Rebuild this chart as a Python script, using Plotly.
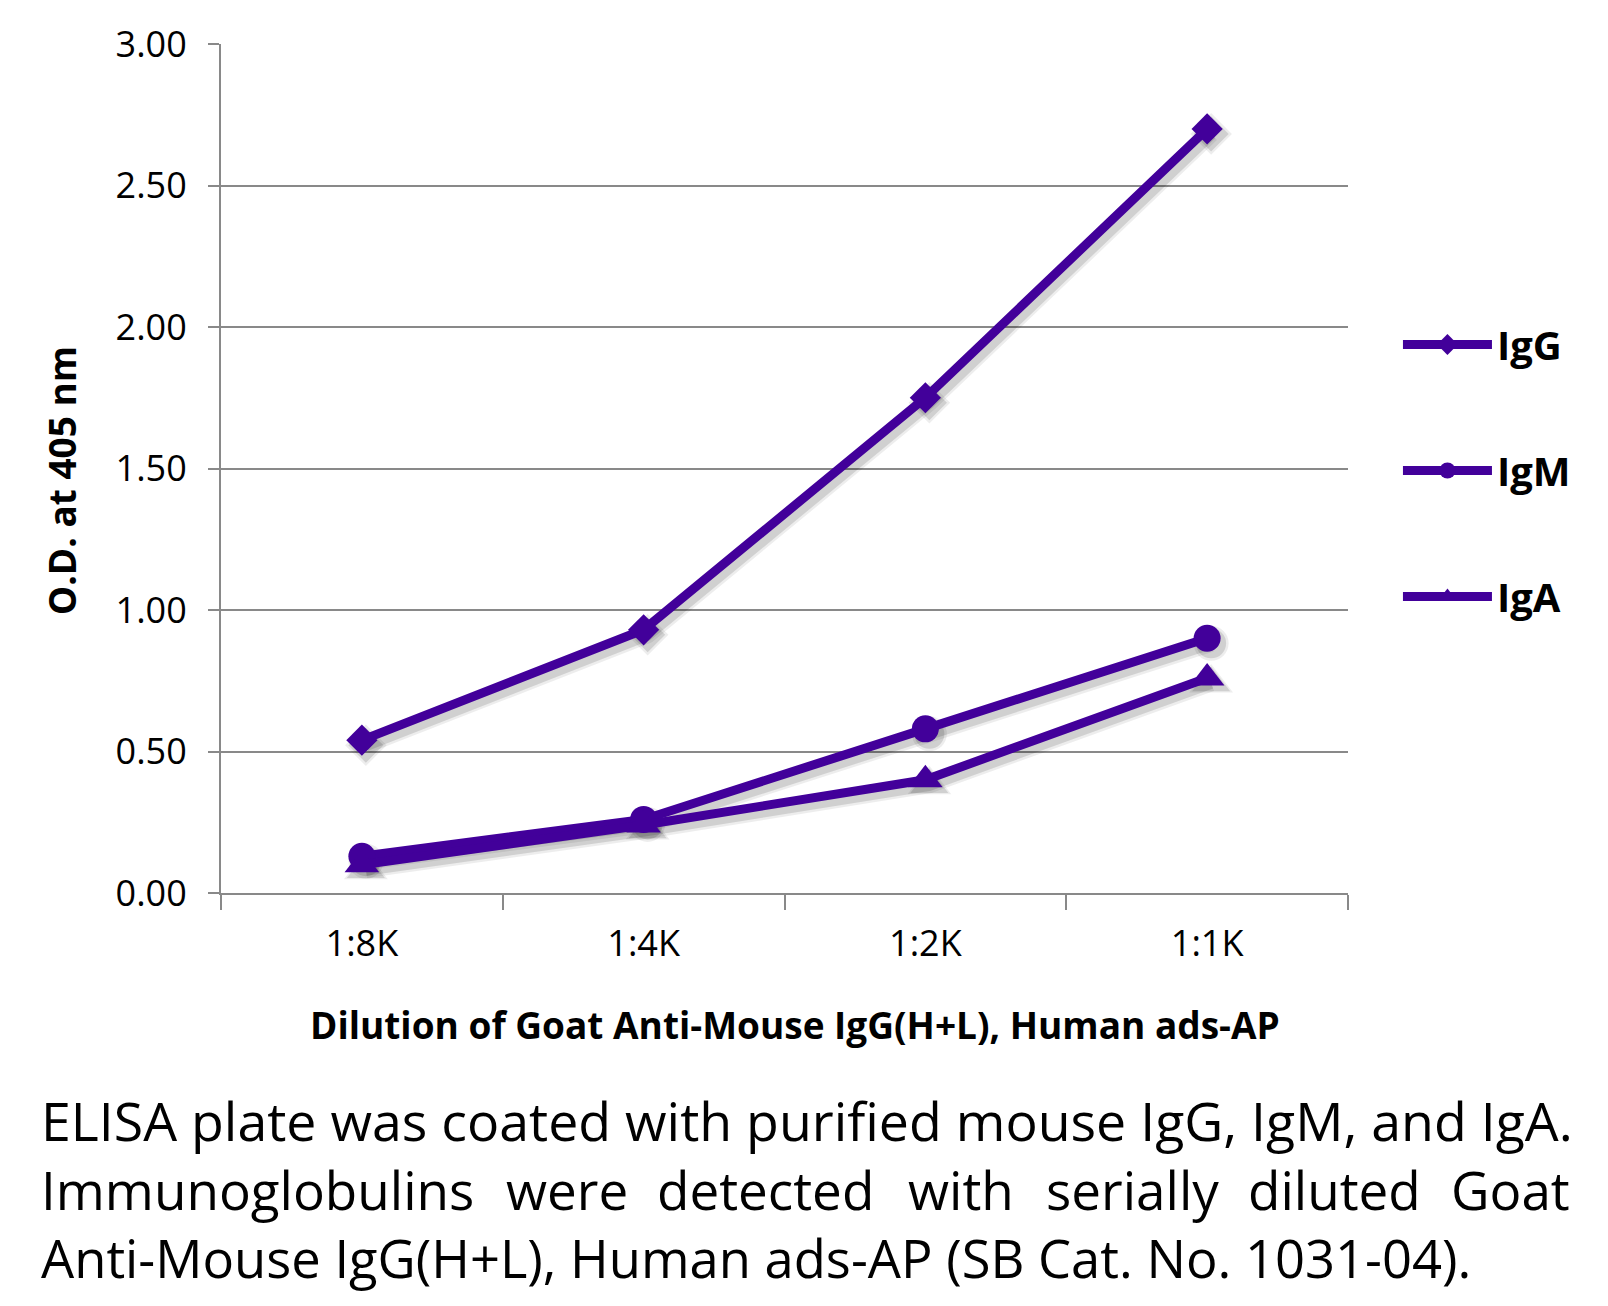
import plotly.graph_objects as go

# ---------------- data ----------------
dilutions = ["1:8K", "1:4K", "1:2K", "1:1K"]
igg = [0.54, 0.93, 1.75, 2.70]
igm = [0.13, 0.26, 0.58, 0.90]
iga = [0.10, 0.24, 0.40, 0.76]
series_names = ["IgG", "IgM", "IgA"]
series_values = [igg, igm, iga]
series_symbols = ["diamond", "circle", "triangle-up"]
series_sizes = [24, 27, 30]
y_tickvals = [0.0, 0.5, 1.0, 1.5, 2.0, 2.5, 3.0]

x_title = "Dilution of Goat Anti-Mouse IgG(H+L), Human ads-AP"
y_title = "O.D. at 405 nm"
caption_line1 = "ELISA plate was coated with purified mouse IgG, IgM, and IgA."
caption_line2 = ["Immunoglobulins", "were", "detected", "with", "serially", "diluted", "Goat"]
caption_line3 = "Anti-Mouse IgG(H+L), Human ads-AP (SB Cat. No. 1031-04)."

# ---------------- layout geometry ----------------
W, H = 1608, 1306
OFF = 8  # page body margin
L, R, T, B = 220, 1348, 44, 893
PW, PH = R - L, B - T
FONT = "Open Sans"
PURPLE = "#42009a"
GRID = "#898989"


def px(x):
    return (x - L) / PW


def py(y):
    return (B - y) / PH


fig = go.Figure()

# transparent trace on base axes so the category axis is defined
fig.add_trace(go.Scatter(x=dilutions, y=igg, mode="lines",
                         line=dict(color="rgba(0,0,0,0)"),
                         showlegend=False, hoverinfo="skip",
                         xaxis="x", yaxis="y"))

# shadow traces (offset axes)
for vals, sym, sz in zip(series_values, series_symbols, series_sizes):
    for w, a in [(17, 0.07), (12, 0.12)]:
        fig.add_trace(go.Scatter(
            x=dilutions, y=vals, mode="lines+markers",
            line=dict(color=f"rgba(0,0,0,{a})", width=w),
            marker=dict(symbol=sym, size=sz + w - 9, color=f"rgba(0,0,0,{a})"),
            showlegend=False, hoverinfo="skip",
            xaxis="x2", yaxis="y2"))

# main traces
for name, vals, sym, sz in zip(series_names, series_values, series_symbols, series_sizes):
    fig.add_trace(go.Scatter(
        x=dilutions, y=vals, name=name, mode="lines+markers",
        line=dict(color=PURPLE, width=9),
        marker=dict(symbol=sym, size=sz, color=PURPLE),
        legendgroup=name,
        xaxis="x3", yaxis="y3"))

dx = 4 / (PW / len(dilutions))
dy = 5 * 3.0 / PH

axis_font = dict(family=FONT, size=36, color="black")

fig.update_layout(
    width=W, height=H,
    margin=dict(l=L - OFF + 1, r=W - R + OFF, t=T - OFF, b=H - B + OFF, pad=0),
    paper_bgcolor="white", plot_bgcolor="white",
    font=dict(family=FONT, color="black"),
    xaxis=dict(type="category", categoryorder="array", categoryarray=dilutions,
               range=[-0.5, len(dilutions) - 0.5],
               tickson="boundaries", ticks="outside", ticklen=15,
               tickwidth=2, tickcolor=GRID,
               showline=True, linecolor=GRID, linewidth=2,
               showgrid=False, zeroline=False,
               tickfont=axis_font, ticklabelstandoff=18),
    yaxis=dict(range=[0, 3], tickvals=y_tickvals, tickformat=".2f",
               ticks="outside", ticklen=11, tickwidth=2, tickcolor=GRID,
               showline=True, linecolor=GRID, linewidth=2,
               showgrid=True, gridcolor=GRID, gridwidth=2, zeroline=False,
               tickfont=axis_font, ticklabelstandoff=14),
    xaxis2=dict(type="category", categoryorder="array", categoryarray=dilutions,
                overlaying="x", visible=False,
                range=[-0.5 - dx, len(dilutions) - 0.5 - dx]),
    yaxis2=dict(overlaying="y", visible=False, range=[0 + dy, 3 + dy]),
    xaxis3=dict(type="category", categoryorder="array", categoryarray=dilutions,
                overlaying="x", visible=False,
                range=[-0.5, len(dilutions) - 0.5]),
    yaxis3=dict(overlaying="y", visible=False, range=[0, 3]),
    legend=dict(x=px(1398), y=py(312), xanchor="left", yanchor="top",
                font=dict(family=FONT, size=40, color="black", weight="bold"),
                itemwidth=89, tracegroupgap=71, bgcolor="rgba(0,0,0,0)",
                borderwidth=0),
    showlegend=True,
)

ann = []
# axis titles
ann.append(dict(text=f"<b>{y_title}</b>", x=px(60), y=py(481), xref="paper", yref="paper",
                xanchor="center", yanchor="middle", textangle=-90, showarrow=False,
                font=dict(family=FONT, size=37, color="black")))
ann.append(dict(text=f"<b>{x_title}</b>", x=px(795), y=py(1024), xref="paper", yref="paper",
                xanchor="center", yanchor="middle", showarrow=False,
                font=dict(family=FONT, size=37, color="black")))

cap_font = dict(family=FONT, size=53, color="black")
# caption line 1
ann.append(dict(text=caption_line1, x=px(38), y=py(1120), xref="paper", yref="paper",
                xanchor="left", yanchor="middle", showarrow=False,
                font=dict(family=FONT, size=53.65, color="black")))
# caption line 2 (justified)
centers2 = [None, 566, 765, 961, 1132, 1334, None]
for i, word in enumerate(caption_line2):
    if i == 0:
        xx, xa = 38, "left"
    elif i == len(caption_line2) - 1:
        xx, xa = 1572, "right"
    else:
        xx, xa = centers2[i], "center"
    ann.append(dict(text=word, x=px(xx), y=py(1189), xref="paper", yref="paper",
                    xanchor=xa, yanchor="middle", showarrow=False, font=cap_font))
# caption line 3
ann.append(dict(text=caption_line3, x=px(38), y=py(1257), xref="paper", yref="paper",
                xanchor="left", yanchor="middle", showarrow=False,
                font=dict(family=FONT, size=52.5, color="black")))

fig.update_layout(annotations=ann)

fig.write_html("out.html")
